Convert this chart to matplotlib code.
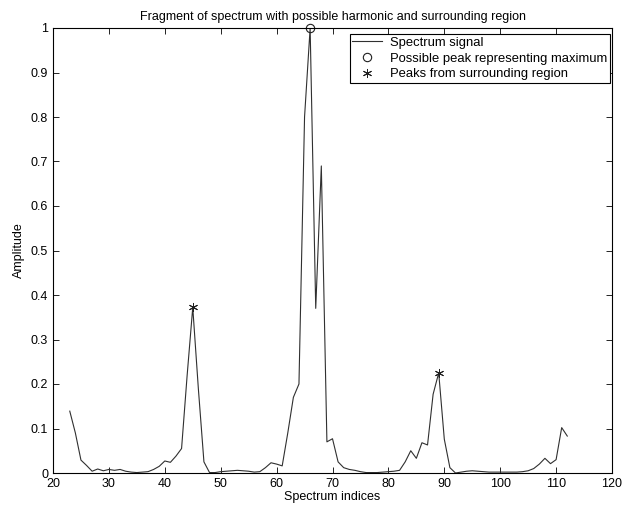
import matplotlib
matplotlib.use("Agg")
import matplotlib.pyplot as plt
import numpy as np

plt.rcParams['font.family'] = ['Liberation Sans', 'DejaVu Sans']

# spectrum indices 23..112 and amplitudes
indices = list(range(23, 113))
amplitude = [
    0.139, 0.09, 0.029, 0.017, 0.004, 0.009, 0.005, 0.008, 0.006, 0.008,   # 23-32
    0.004, 0.002, 0.001, 0.002, 0.003, 0.008, 0.015, 0.027, 0.024, 0.038,  # 33-42
    0.055, 0.22, 0.372, 0.19, 0.025, 0.001, 0.001, 0.003, 0.004, 0.005,    # 43-52
    0.006, 0.005, 0.004, 0.002, 0.003, 0.012, 0.023, 0.02, 0.016, 0.09,    # 53-62
    0.17, 0.2, 0.8, 1.0, 0.37, 0.69, 0.07, 0.077, 0.025, 0.012,            # 63-72
    0.008, 0.006, 0.003, 0.001, 0.001, 0.001, 0.002, 0.003, 0.004, 0.006,  # 73-82
    0.025, 0.05, 0.033, 0.068, 0.063, 0.177, 0.225, 0.076, 0.012, 0.0,     # 83-92
    0.002, 0.004, 0.005, 0.004, 0.003, 0.002, 0.002, 0.002, 0.002, 0.002,  # 93-102
    0.002, 0.003, 0.005, 0.01, 0.02, 0.033, 0.021, 0.03, 0.102, 0.083,     # 103-112
]

max_peak_x = [66]
max_peak_y = [1.0]
side_peaks_x = [45, 89]
side_peaks_y = [0.372, 0.225]

fig = plt.figure(figsize=(6.28, 5.12), dpi=100)
ax = fig.add_axes([53 / 628, 1 - 473 / 512, 559 / 628, 445 / 512])

ax.plot(indices, amplitude, color='#303030', lw=0.8, label='Spectrum signal')
ax.plot(max_peak_x, max_peak_y, 'o', mfc='none', mec='#202020', ms=6, mew=0.8,
        label='Possible peak representing maximum', clip_on=False)
# matlab style asterisk
ax.plot(side_peaks_x, side_peaks_y, ls='none', marker=(6, 2, 0), color='#202020',
        ms=6.5, mew=0.7, label='Peaks from surrounding region')

ax.set_xlim(20, 120)
ax.set_ylim(0, 1)
ax.set_xticks(np.arange(20, 121, 10))
ax.set_yticks(np.arange(0, 1.01, 0.1))
ax.set_yticklabels(['0', '0.1', '0.2', '0.3', '0.4', '0.5', '0.6', '0.7', '0.8', '0.9', '1'])
ax.tick_params(direction='in', top=True, right=True, labelsize=9, length=4, width=0.6)
for s in ax.spines.values():
    s.set_linewidth(0.8)

ax.set_xlabel('Spectrum indices', fontsize=9, labelpad=1)
ax.set_ylabel('Amplitude', fontsize=9, labelpad=4)
ax.set_title('Fragment of spectrum with possible harmonic and surrounding region', fontsize=9, pad=6)

leg = ax.legend(loc='upper right', bbox_to_anchor=(0.9964, 0.9865), borderaxespad=0,
                fontsize=9.4, frameon=True, fancybox=False, edgecolor='black', framealpha=1,
                borderpad=0.2, labelspacing=0.28, handlelength=2.3, handletextpad=0.6)
leg.get_frame().set_linewidth(0.8)

fig.savefig('out.png', dpi=100)
